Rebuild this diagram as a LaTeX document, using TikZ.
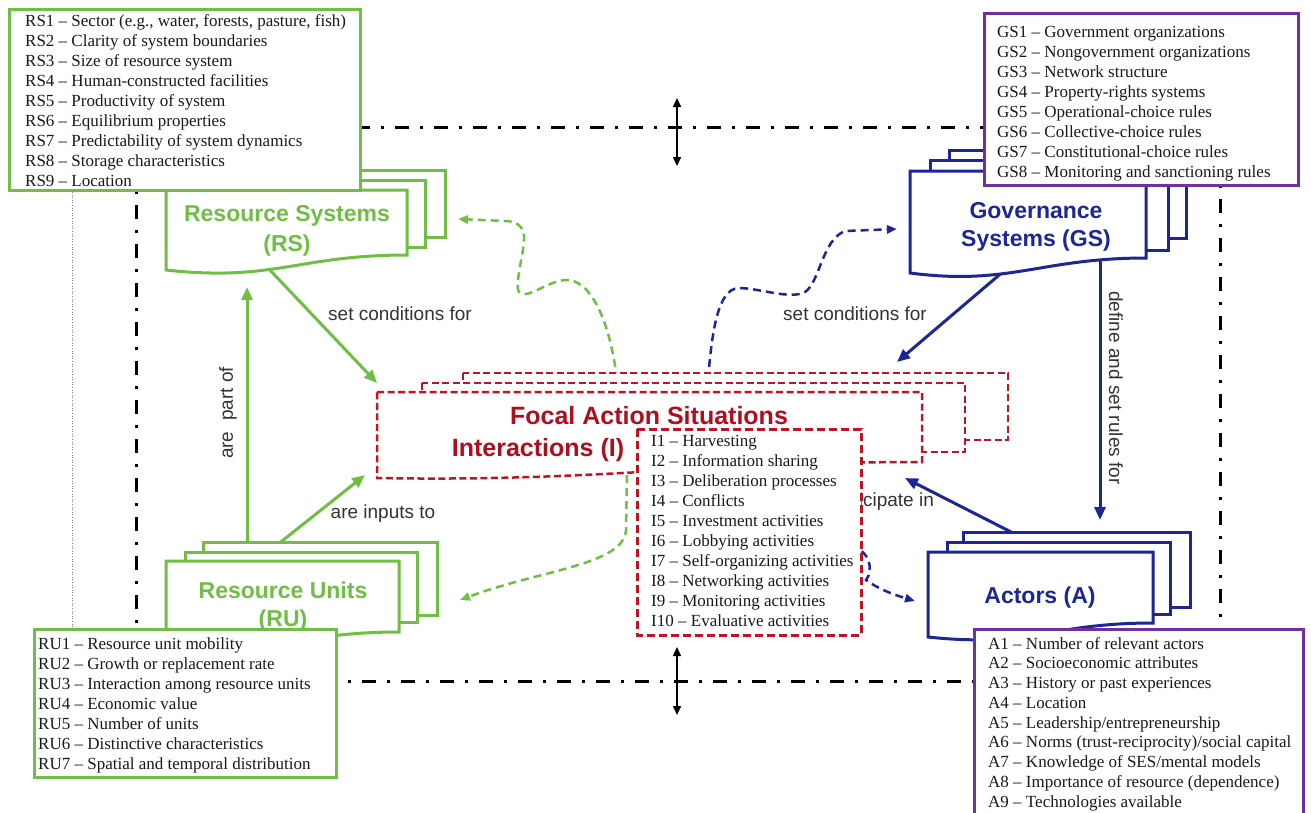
\documentclass[tikz,border=0pt]{standalone}
\usepackage{fontspec}
\setmainfont{Liberation Serif}
\newfontfamily\arialfont{Liberation Sans}
\usetikzlibrary{arrows.meta,calc}
\definecolor{sesgreen}{RGB}{112,190,68}
\definecolor{sesblue}{RGB}{28,38,150}
\definecolor{sesred}{RGB}{190,20,35}
\definecolor{sesredtext}{RGB}{176,14,30}
\definecolor{sespurple}{RGB}{112,48,160}
\begin{document}
\begin{tikzpicture}[x=1pt,y=-1pt,
  listbox/.style={line width=3pt, fill=white},
  listtext/.style={anchor=north west, inner sep=0pt, align=left, font=\fontsize{17}{20}\selectfont, text=black!90},
  lbl/.style={font=\arialfont\fontsize{19}{22}\selectfont, text=black!80, inner sep=0pt},
  ttl/.style={font=\arialfont\bfseries\fontsize{23}{28}\selectfont, inner sep=0pt, anchor=base},
  ftl/.style={font=\arialfont\bfseries\fontsize{25}{30}\selectfont, inner sep=0pt, anchor=base, text=sesredtext},
  solidarrow/.style={line width=3pt, -{Triangle[length=13pt,width=11pt]}},
  dasharrow/.style={line width=2.5pt, dash pattern=on 8pt off 5pt, -{Triangle[length=10pt,width=8pt]}},
  layer/.style={line width=3pt, fill=white},
  focallayer/.style={line width=2.5pt, draw=sesred, dash pattern=on 7pt off 3.5pt, fill=white},
  dashdot/.style={line width=3pt, dash pattern=on 14pt off 11pt on 3pt off 11pt},
  dblarrow/.style={line width=1.5pt, {Triangle[length=9pt,width=8pt]}-{Triangle[length=9pt,width=8pt]}}
]
\useasboundingbox (0,0) rectangle (1311,812);
\clip (0,0) rectangle (1311,812);
\fill[white] (0,0) rectangle (1311,812);

% ---------- frame ----------
\draw[dashdot] (136,127) rectangle (1220,681);
\draw[gray, line width=0.6pt, dotted] (72,192) -- (72,628);
\coordinate (topA) at (677,98);
\coordinate (topB) at (677,166);
\coordinate (botA) at (677,647);
\coordinate (botB) at (677,715);
\draw[dblarrow] (topA) -- (topB);
\draw[dblarrow] (botA) -- (botB);

% ---------- connector end points ----------
\coordinate (rsOut) at (268,268);
\coordinate (focIn1) at (377,383);
\coordinate (ruOut1) at (247,545);
\coordinate (rsIn) at (247,287);
\coordinate (ruOut2) at (277,545);
\coordinate (focIn2) at (365,475);
\coordinate (gsOut1) at (1005,270);
\coordinate (focIn3) at (897,362);
\coordinate (gsOut2) at (1100,255);
\coordinate (aIn) at (1100,520);
\coordinate (aOut) at (1017,535);
\coordinate (focIn4) at (905,478);
\coordinate (focTopG) at (617,380);
\coordinate (rsInD) at (458,219);
\coordinate (focTopB) at (708,380);
\coordinate (gsInD) at (897,229);
\coordinate (focBotG) at (627,475);
\coordinate (ruInD) at (460,600);
\coordinate (focBotB) at (850,546);
\coordinate (aInD) at (915,601);

% ---------- solid connectors ----------
\draw[solidarrow, sesgreen] (rsOut) -- (focIn1);
\draw[solidarrow, sesgreen] (ruOut1) -- (rsIn);
\draw[solidarrow, sesgreen] (ruOut2) -- (focIn2);
\draw[solidarrow, sesblue] (gsOut1) -- (focIn3);
\draw[solidarrow, sesblue] (gsOut2) -- (aIn);
\draw[solidarrow, sesblue] (aOut) -- (focIn4);

% ---------- dashed curved connectors ----------
\draw[dasharrow, sesgreen] (focTopG) .. controls (610,320) and (590,278) .. (565,280)
   .. controls (545,282) and (528,300) .. (519,292)
   .. controls (514,285) and (525,250) .. (524,236)
   .. controls (523,225) and (515,221) .. (505,221) -- (rsInD);
\draw[dasharrow, sesblue] (focTopB) .. controls (712,330) and (718,290) .. (738,288)
   .. controls (760,288) and (790,300) .. (805,292)
   .. controls (820,282) and (822,240) .. (845,231) -- (gsInD);
\draw[dasharrow, sesgreen] (focBotG) -- (626,530) .. controls (624,565) and (540,570) .. (ruInD);
\draw[dasharrow, sesblue] (focBotB) .. controls (870,550) and (874,570) .. (866,580)
   .. controls (880,590) and (895,595) .. (aInD);

% ---------- labels ----------
\node[lbl, anchor=base] (lSetL) at (400,320) {set conditions for};
\node[lbl, anchor=base] (lSetR) at (855,320) {set conditions for};
\node[lbl, anchor=base] (lInputs) at (383,518) {are inputs to};
\node[lbl, rotate=90] (lPart) at (228,413) {are\ \ part of};
\node[lbl, rotate=-90] (lDefine) at (1116,388) {define and set rules for};
\node[lbl, anchor=base] (lPartic) at (880,506) {participate in};

% ---------- Resource Systems ----------
\draw[layer, draw=sesgreen] (203,170) rectangle (445,237);
\draw[layer, draw=sesgreen] (185,180) rectangle (425,247);
\draw[layer, draw=sesgreen] (166,190) -- (407,190) -- (407,255)
   .. controls (298,255) and (274,282) .. (166,270) -- cycle;
\node[ttl, text=sesgreen] (rsT1) at (287,221) {Resource Systems};
\node[ttl, text=sesgreen] (rsT2) at (287,251) {(RS)};

% ---------- Governance Systems ----------
\draw[layer, draw=sesblue] (949,150) rectangle (1186,238);
\draw[layer, draw=sesblue] (930,160) rectangle (1168,250);
\draw[layer, draw=sesblue] (910,171) -- (1146,171) -- (1146,258)
   .. controls (1040,258) and (1010,286) .. (910,273) -- cycle;
\node[ttl, text=sesblue] (gsT1) at (1036,218) {Governance};
\node[ttl, text=sesblue] (gsT2) at (1036,246) {Systems (GS)};

% ---------- Resource Units ----------
\draw[layer, draw=sesgreen] (203,542) rectangle (437,615);
\draw[layer, draw=sesgreen] (185,552) rectangle (417,622);
\draw[layer, draw=sesgreen] (166,561) -- (399,561) -- (399,632)
   .. controls (300,632) and (270,655) .. (166,645) -- cycle;
\node[ttl, text=sesgreen] (ruT1) at (283,598) {Resource Units};
\node[ttl, text=sesgreen] (ruT2) at (283,626) {(RU)};

% ---------- Actors ----------
\draw[layer, draw=sesblue] (963,532) rectangle (1190,607);
\draw[layer, draw=sesblue] (947,542) rectangle (1170,614);
\draw[layer, draw=sesblue] (928,552) -- (1153,552) -- (1153,623)
   .. controls (1050,623) and (1030,648) .. (928,637) -- cycle;
\node[ttl, text=sesblue] (aT) at (1040,603) {Actors (A)};

% ---------- Focal action situations ----------
\draw[focallayer] (463,373) rectangle (1008,440);
\draw[focallayer] (422,383) rectangle (965,452);
\draw[focallayer] (377,392) -- (922,392) -- (922,462)
   .. controls (700,462) and (600,482) .. (377,478) -- cycle;
\node[ftl] (fT1) at (649,424) {Focal Action Situations};
\node[ftl] (fT2) at (538,456) {Interactions (I)};

% ---------- lists ----------
\draw[listbox, draw=sesgreen] (9,9) rectangle (360,190);
\node[listtext] (rsList) at (25,12) {\strut RS1 – Sector (e.g., water, forests, pasture, fish)\\
RS2 – Clarity of system boundaries\\
RS3 – Size of resource system\\
RS4 – Human-constructed facilities\\
RS5 – Productivity of system\\
RS6 – Equilibrium properties\\
RS7 – Predictability of system dynamics\\
RS8 – Storage characteristics\\
RS9 – Location};

\draw[listbox, draw=sespurple] (984,13) rectangle (1298,185);
\node[listtext] (gsList) at (997,23) {\strut GS1 – Government organizations\\
GS2 – Nongovernment organizations\\
GS3 – Network structure\\
GS4 – Property-rights systems\\
GS5 – Operational-choice rules\\
GS6 – Collective-choice rules\\
GS7 – Constitutional-choice rules\\
GS8 – Monitoring and sanctioning rules};

\draw[listbox, draw=sesgreen] (34,629) rectangle (336,777);
\node[listtext] (ruList) at (38,635) {\strut RU1 – Resource unit mobility\\
RU2 – Growth or replacement rate\\
RU3 – Interaction among resource units\\
RU4 – Economic value\\
RU5 – Number of units\\
RU6 – Distinctive characteristics\\
RU7 – Spatial and temporal distribution};

\draw[listbox, draw=sespurple] (974,629) rectangle (1303,830);
\node[listtext, font=\fontsize{17}{19.75}\selectfont] (aList) at (988,635) {\strut A1 – Number of relevant actors\\
A2 – Socioeconomic attributes\\
A3 – History or past experiences\\
A4 – Location\\
A5 – Leadership/entrepreneurship\\
A6 – Norms (trust-reciprocity)/social capital\\
A7 – Knowledge of SES/mental models\\
A8 – Importance of resource (dependence)\\
A9 – Technologies available};

\draw[line width=3pt, draw=sesred, dash pattern=on 8pt off 4pt, fill=white] (637,429) rectangle (861,635);
\node[listtext] (iList) at (651,432) {\strut I1 – Harvesting\\
I2 – Information sharing\\
I3 – Deliberation processes\\
I4 – Conflicts\\
I5 – Investment activities\\
I6 – Lobbying activities\\
I7 – Self-organizing activities\\
I8 – Networking activities\\
I9 – Monitoring activities\\
I10 – Evaluative activities};
\end{tikzpicture}
\end{document}
